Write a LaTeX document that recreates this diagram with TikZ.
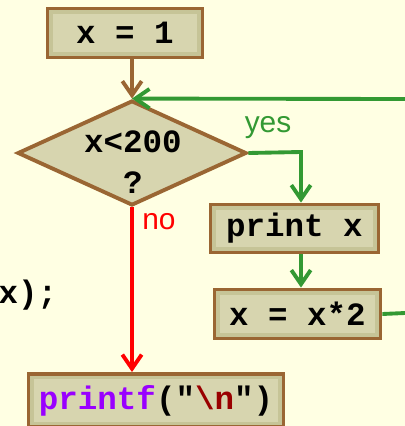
\documentclass[tikz,border=0pt]{standalone}
\usepackage{fontspec}
\setmainfont{Liberation Sans}
\setmonofont{Liberation Mono}
\usetikzlibrary{arrows.meta, positioning, shapes.geometric, calc}
\definecolor{bgyellow}{HTML}{FFFFE3}
\definecolor{boxfill}{HTML}{D7D5AF}
\definecolor{boxedge}{HTML}{9A6633}
\definecolor{boxband}{HTML}{C6C497}
\definecolor{loopgreen}{HTML}{339933}
\definecolor{keyword}{HTML}{9900FF}
\definecolor{escape}{HTML}{990000}

\begin{document}
\begin{tikzpicture}[x=0.02cm, y=-0.02cm,
    code/.style={font=\ttfamily\bfseries\fontsize{18.5}{23}\selectfont},
    box/.style={code, draw=boxedge, fill=boxfill, line width=2.2pt, rectangle, inner sep=0pt,
        path picture={\draw[boxband, line width=6pt] (path picture bounding box.south west) rectangle (path picture bounding box.north east);}},
    ask/.style={draw=boxedge, fill=boxfill, line width=2.2pt, diamond, inner sep=0pt},
    flow/.style={line width=2.2pt, -{Straight Barb[length=8pt,width=11pt]}},
    tag/.style={font=\fontsize{17}{20}\selectfont, inner sep=0pt}]
    % 背景
    \fill[bgyellow] (0,0) rectangle (405,426);
    \useasboundingbox (0,0) rectangle (405,426);
    % 方框
    \node[box, minimum width=3.1cm, minimum height=0.98cm] (start) at (125,33) {x = 1};
    \node[ask, minimum width=4.58cm, minimum height=2.1cm] (dia) at (132,153) {};
    \node[code, align=center, inner sep=0pt] (diatext) at (133,162) {x<200\\?};
    \node[box, minimum width=3.36cm, minimum height=0.96cm] (print) at (294.5,228.5) {print x};
    \node[box, minimum width=3.32cm, minimum height=0.98cm] (double) at (297.5,314) {x = x*2};
    \node[box, minimum width=5.1cm, minimum height=1.06cm] (done) at (156,400.5)
        {{\color{keyword}printf}("{\color{escape}\textbackslash n}")};
    \node[code, anchor=base east, inner sep=0pt] (tail) at (57.5,303) {x);};
    % 分支标记
    \node[tag, text=loopgreen] (yes) at (268,128) {yes};
    \node[tag, text=red] (no) at (159,222) {no};
    % 连线
    \coordinate (loopin) at (405,99);
    \coordinate (loopout) at (405,313);
    \coordinate (yesturn) at (301,152);
    \draw[flow, boxedge] (dia.north |- start.south) -- (dia.north);
    \draw[flow, loopgreen] (loopin) -- (dia.north);
    \draw[flow, loopgreen] (dia.east) -- (yesturn) -- (yesturn |- print.north);
    \draw[flow, loopgreen] (yesturn |- print.south) -- (yesturn |- double.north);
    \draw[line width=2.2pt, loopgreen] (double.east) -- (loopout);
    \draw[flow, red] (dia.south) -- (dia.south |- done.north);
\end{tikzpicture}
\end{document}
